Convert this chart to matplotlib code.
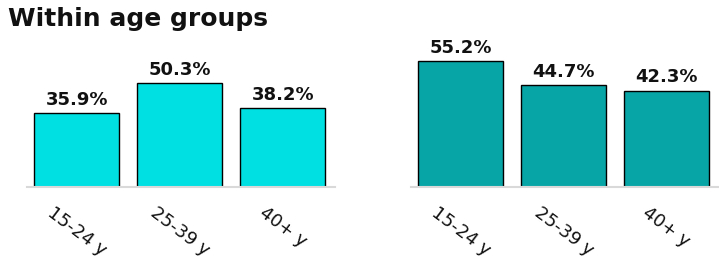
import matplotlib
matplotlib.use('Agg')
import matplotlib.pyplot as plt

plt.rcParams['font.family'] = ['DejaVu Sans']

# Data
age_groups = ['15-24 y', '25-39 y', '40+ y']
left_vals = [35.9, 50.3, 38.2]
right_vals = [55.2, 44.7, 42.3]

left_color = '#00E0E3'
right_color = '#08A5A6'

fig = plt.figure(figsize=(7.19, 2.65), dpi=100)

W, H = 719, 265
base_y = 187
top_y = 40

def make_axes(x0, x1, vals, color, ymax, xlim):
  ax = fig.add_axes([x0 / W, (H - base_y) / H, (x1 - x0) / W, (base_y - top_y) / H])
  xs = list(range(len(vals)))
  ax.bar(xs, vals, width=0.825, color=color, edgecolor='black', linewidth=1.0, zorder=2)
  for x, v in zip(xs, vals):
    ax.text(x, v + 2.0 * (ymax / 71.0), f'{v:.1f}%', ha='center', va='bottom',
            fontsize=13, fontweight='bold', color='#111111')
  ax.set_ylim(0, ymax)
  ax.set_xlim(*xlim)
  ax.set_xticks(xs)
  ax.set_xticklabels(age_groups, rotation=-37, ha='center', va='top', fontsize=13, color='#111111')
  ax.tick_params(axis='x', length=0, pad=12)
  ax.set_yticks([])
  for s in ['top', 'right', 'left']:
    ax.spines[s].set_visible(False)
  ax.spines['bottom'].set_color('#d9d9d9')
  ax.spines['bottom'].set_linewidth(1.5)
  ax.patch.set_alpha(0)
  return ax

make_axes(27, 335, left_vals, left_color, 71.0, (-0.485, 2.505))
make_axes(411, 719, right_vals, right_color, 64.5, (-0.48, 2.51))

fig.text(8 / W, 1 - 7 / H, 'Within age groups', ha='left', va='top',
         fontsize=18, fontweight='heavy', color='#111111')

fig.savefig('out.png', dpi=100)
